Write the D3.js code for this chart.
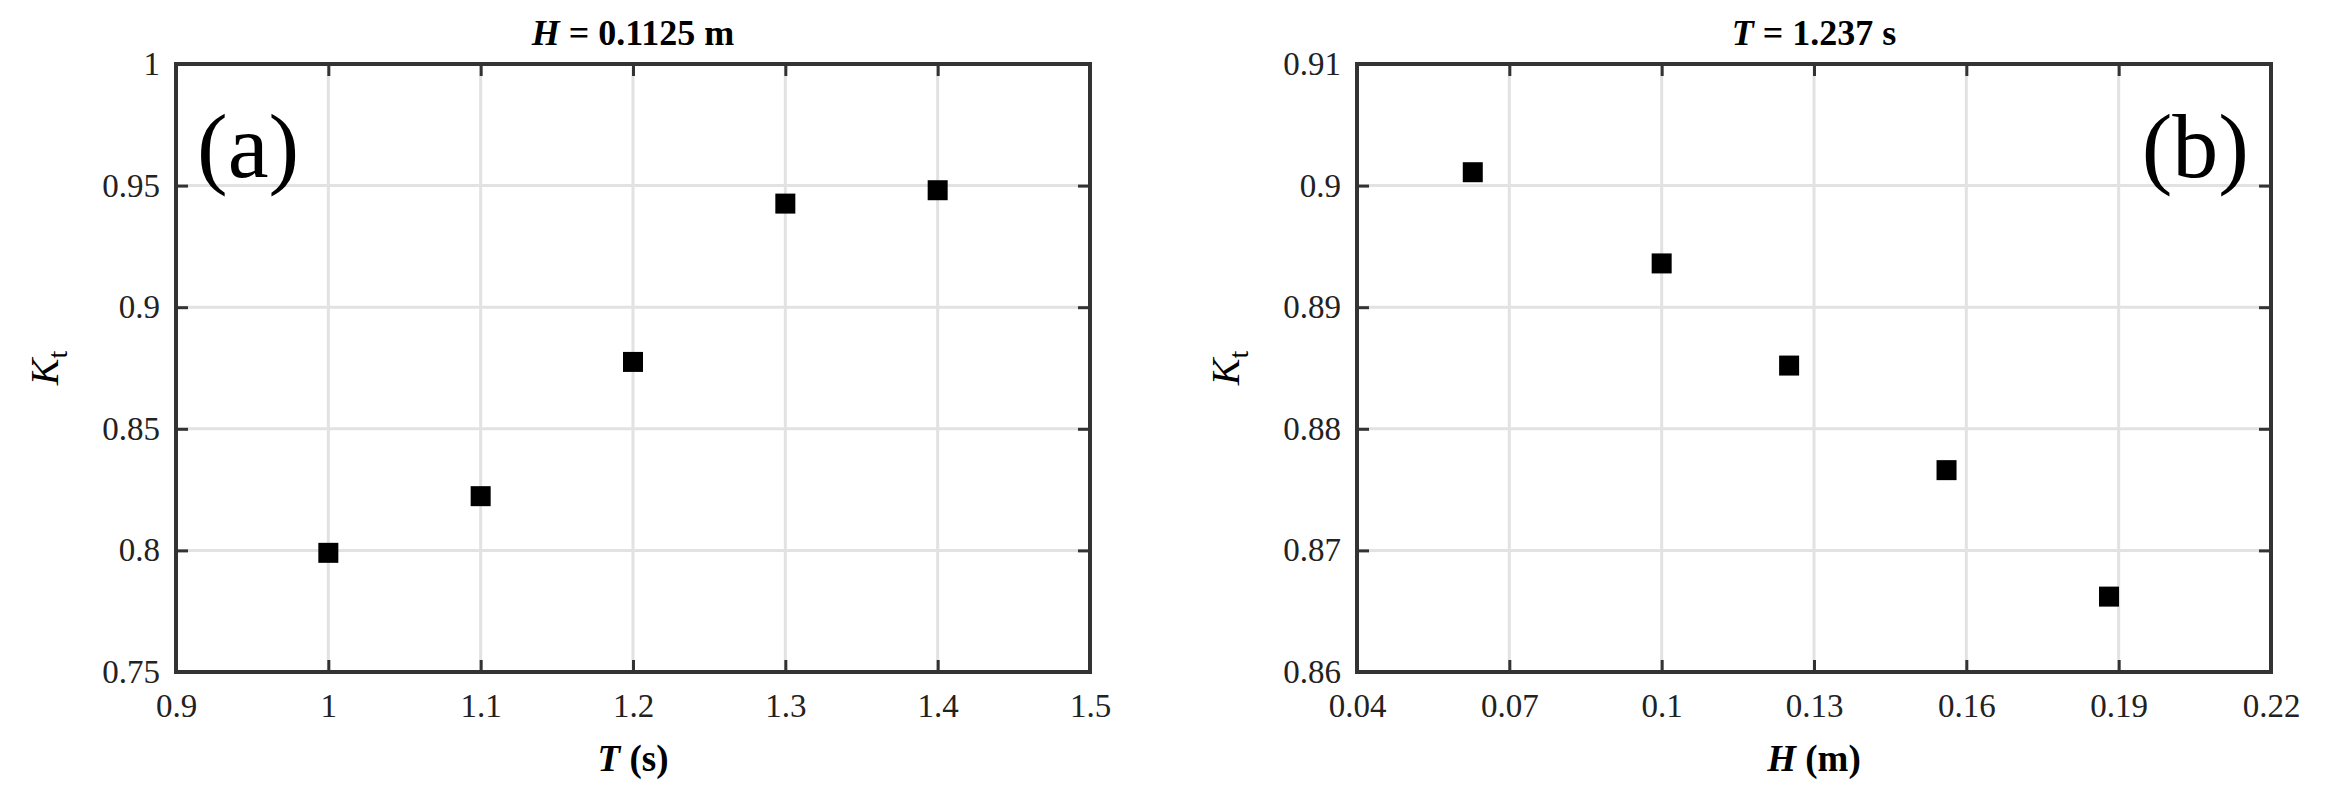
<!DOCTYPE html>
<html>
<head>
<meta charset="utf-8">
<script src="https://cdn.jsdelivr.net/npm/d3@7"></script>
<style>
  body { margin: 0; background: #fff; }
</style>
</head>
<body>
<svg id="chart" width="2330" height="812"></svg>
<script>
// panel (a): H = 0.1125 m
const periodT = [1.0, 1.1, 1.2, 1.3, 1.4];
const ktVsT = [0.799, 0.8223, 0.8775, 0.9426, 0.9481];
const xTicksA = [0.9, 1, 1.1, 1.2, 1.3, 1.4, 1.5];
const yTicksA = [0.75, 0.8, 0.85, 0.9, 0.95, 1];

// panel (b): T = 1.237 s
const heightH = [0.0628, 0.1, 0.1251, 0.1561, 0.1881];
const ktVsH = [0.9011, 0.8936, 0.8852, 0.8766, 0.8662];
const xTicksB = [0.04, 0.07, 0.1, 0.13, 0.16, 0.19, 0.22];
const yTicksB = [0.86, 0.87, 0.88, 0.89, 0.9, 0.91];

const serif = "'Liberation Serif', 'Times New Roman', Tinos, 'DejaVu Serif', serif";
const svg = d3.select('#chart').style('font-family', serif);
const plotTop = 64, plotBottom = 672, plotW = 914;
const axisColor = '#333';

function drawPanel(p) {
  const x = d3.scaleLinear().domain([p.xTicks[0], p.xTicks[p.xTicks.length - 1]]).range([p.left, p.left + plotW]);
  const y = d3.scaleLinear().domain([p.yTicks[0], p.yTicks[p.yTicks.length - 1]]).range([plotBottom, plotTop]);
  const g = svg.append('g');

  // grid
  g.selectAll('.vgrid').data(p.xTicks.slice(1, -1)).enter().append('line')
    .attr('x1', d => x(d)).attr('x2', d => x(d))
    .attr('y1', plotTop).attr('y2', plotBottom)
    .attr('stroke', '#e2e2e2').attr('stroke-width', 3);
  g.selectAll('.hgrid').data(p.yTicks.slice(1, -1)).enter().append('line')
    .attr('x1', x.range()[0]).attr('x2', x.range()[1])
    .attr('y1', d => y(d)).attr('y2', d => y(d))
    .attr('stroke', '#e2e2e2').attr('stroke-width', 3);

  const fmt = d => String(d);
  const styleAxis = sel => {
    sel.attr('font-family', null).attr('font-size', null);
    sel.select('.domain').remove();
    sel.selectAll('.tick line').attr('stroke', axisColor).attr('stroke-width', 3);
    sel.selectAll('.tick text').attr('fill', '#222')
      .style('font-family', serif).style('font-size', '33px');
  };

  g.append('g').attr('transform', `translate(0,${plotBottom})`)
    .call(d3.axisBottom(x).tickValues(p.xTicks).tickFormat(fmt).tickSizeInner(-12).tickSizeOuter(0).tickPadding(22))
    .call(styleAxis);
  g.append('g').attr('transform', `translate(0,${plotTop})`)
    .call(d3.axisTop(x).tickValues(p.xTicks).tickFormat('').tickSizeInner(-12).tickSizeOuter(0))
    .call(styleAxis);
  g.append('g').attr('transform', `translate(${x.range()[0]},0)`)
    .call(d3.axisLeft(y).tickValues(p.yTicks).tickFormat(fmt).tickSizeInner(-12).tickSizeOuter(0).tickPadding(16))
    .call(styleAxis);
  g.append('g').attr('transform', `translate(${x.range()[1]},0)`)
    .call(d3.axisRight(y).tickValues(p.yTicks).tickFormat('').tickSizeInner(-12).tickSizeOuter(0))
    .call(styleAxis);

  // box
  g.append('rect')
    .attr('x', x.range()[0]).attr('y', plotTop)
    .attr('width', plotW).attr('height', plotBottom - plotTop)
    .attr('fill', 'none').attr('stroke', axisColor).attr('stroke-width', 4);

  // markers
  g.selectAll('.pt').data(p.xs).enter().append('rect')
    .attr('x', (d, i) => x(d) - 10)
    .attr('y', (d, i) => y(p.ys[i]) - 10)
    .attr('width', 20).attr('height', 20)
    .attr('fill', '#000');

  const cx = p.left + plotW / 2;

  // title
  const t = g.append('text').attr('x', cx).attr('y', 45)
    .attr('text-anchor', 'middle').style('font-family', serif)
    .style('font-size', '36px').style('font-weight', 'bold');
  t.append('tspan').style('font-style', 'italic').text(p.titleVar);
  t.append('tspan').text(p.titleRest);

  // x label
  const xl = g.append('text').attr('x', cx).attr('y', 771)
    .attr('text-anchor', 'middle').style('font-family', serif)
    .style('font-size', '37px').style('font-weight', 'bold');
  xl.append('tspan').style('font-style', 'italic').text(p.xVar);
  xl.append('tspan').text(p.xUnit);

  // y label
  const yl = g.append('text')
    .attr('transform', `translate(${p.left - 118},${(plotTop + plotBottom) / 2}) rotate(-90)`)
    .attr('text-anchor', 'middle').style('font-family', serif).style('font-size', '40px');
  yl.append('tspan').style('font-style', 'italic').text('K');
  yl.append('tspan').attr('dy', 9).style('font-size', '28px').text('t');

  // panel tag
  g.append('text')
    .attr('x', p.tagAnchor === 'start' ? x.range()[0] + 21 : x.range()[1] - 22)
    .attr('y', 177)
    .attr('text-anchor', p.tagAnchor)
    .style('font-family', serif)
    .style('font-size', '92px')
    .text(p.tag);
}

drawPanel({
  left: 176, xTicks: xTicksA, yTicks: yTicksA, xs: periodT, ys: ktVsT,
  titleVar: 'H', titleRest: ' = 0.1125 m', xVar: 'T', xUnit: ' (s)',
  tag: '(a)', tagAnchor: 'start'
});
drawPanel({
  left: 1357, xTicks: xTicksB, yTicks: yTicksB, xs: heightH, ys: ktVsH,
  titleVar: 'T', titleRest: ' = 1.237 s', xVar: 'H', xUnit: ' (m)',
  tag: '(b)', tagAnchor: 'end'
});
</script>
</body>
</html>
